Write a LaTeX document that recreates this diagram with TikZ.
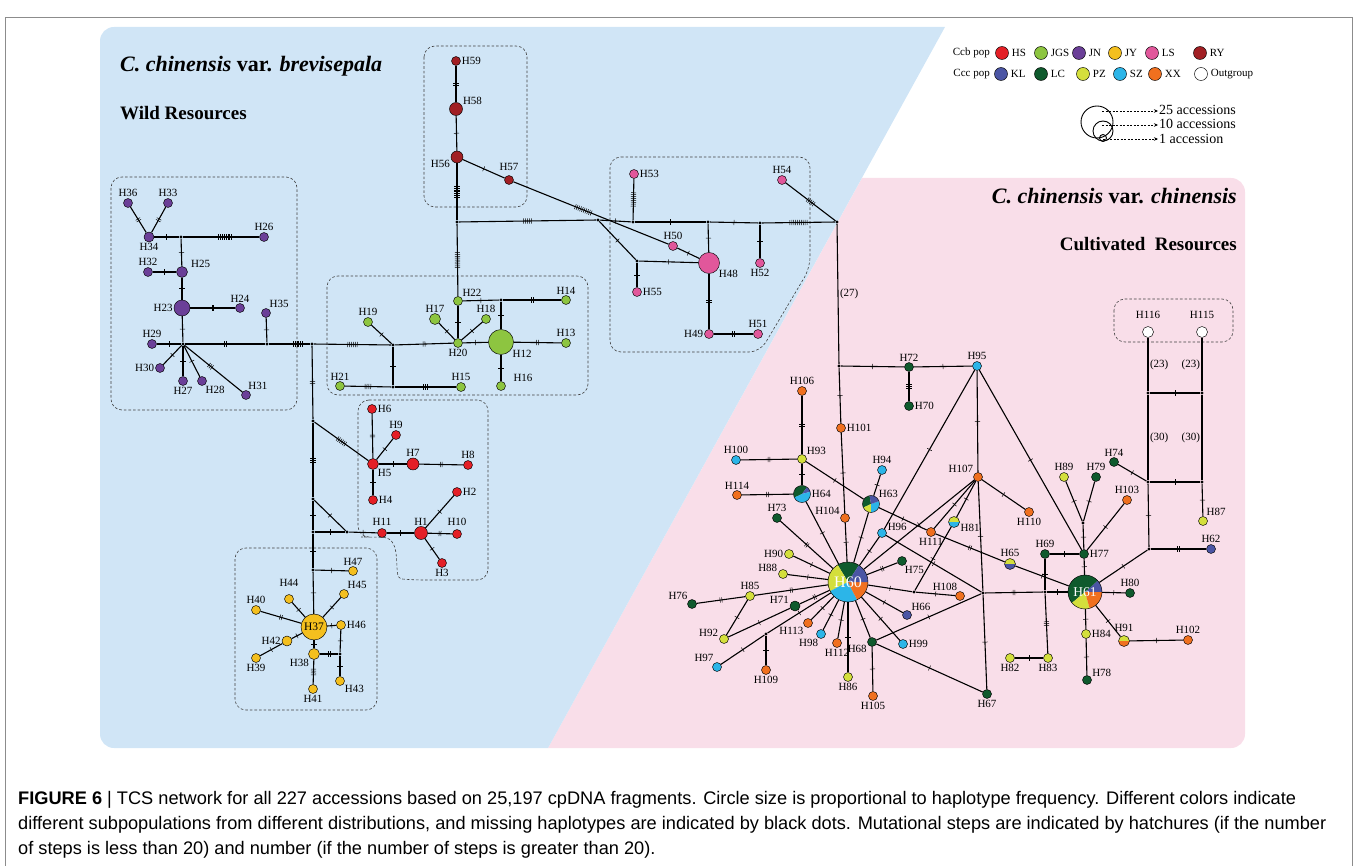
\documentclass[tikz,border=0pt]{standalone}
\usepackage{fontspec}
\setmainfont{Liberation Serif}
\newfontfamily\capfont{Liberation Sans}
\usepackage{tikz}
\usetikzlibrary{arrows.meta,decorations.markings,calc}
\definecolor{tcsHS}{HTML}{E41F26}
\definecolor{tcsJGS}{HTML}{8DC540}
\definecolor{tcsJN}{HTML}{6B3F98}
\definecolor{tcsJY}{HTML}{F4BF1E}
\definecolor{tcsLS}{HTML}{E1579B}
\definecolor{tcsRY}{HTML}{A11F24}
\definecolor{tcsKL}{HTML}{4B55A4}
\definecolor{tcsLC}{HTML}{0F5A2D}
\definecolor{tcsPZ}{HTML}{D4DF3C}
\definecolor{tcsSZ}{HTML}{2CB5E8}
\definecolor{tcsXX}{HTML}{F0701F}
\definecolor{wildbg}{HTML}{D0E5F6}
\definecolor{cultbg}{HTML}{F9DEE9}
\definecolor{framegrey}{HTML}{8C8C8C}
% one coloured sector of a pie haplotype (angles as seen on the page)
\newcommand{\slice}[5]{\fill[#5] (#1) -- ++({-(#3)}:#2)
  arc[start angle={-(#3)}, end angle={-(#4)}, radius=#2] -- cycle;}
\tikzset{
  hap/.style      = {circle, draw=black, line width=0.45pt, inner sep=0pt,
                     minimum size=9pt},
  pHS/.style      = {hap, fill=tcsHS},
  pJGS/.style     = {hap, fill=tcsJGS},
  pJN/.style      = {hap, fill=tcsJN},
  pJY/.style      = {hap, fill=tcsJY},
  pLS/.style      = {hap, fill=tcsLS},
  pRY/.style      = {hap, fill=tcsRY},
  pKL/.style      = {hap, fill=tcsKL},
  pLC/.style      = {hap, fill=tcsLC},
  pPZ/.style      = {hap, fill=tcsPZ},
  pSZ/.style      = {hap, fill=tcsSZ},
  pXX/.style      = {hap, fill=tcsXX},
  pOG/.style      = {hap, fill=white},
  miss/.style     = {circle, fill=black, inner sep=0pt, minimum size=3.4pt},
  lab/.style      = {font=\fontsize{11}{12}\selectfont, inner sep=1pt},
  stepnum/.style  = {font=\fontsize{11}{12}\selectfont, inner sep=1.5pt},
  link/.style     = {draw=black, line width=1.1pt},
  hatchat/.style 2 args = {postaction={decorate, decoration={markings,
      mark=at position #2 with {\foreach \k in {1,...,#1}
        {\draw[line width=0.5pt] ({(\k-(#1+1)/2)*1.9},-2.6) -- ++(0,5.2);}}}}},
  hatch/.style    = {hatchat={#1}{0.5}},
  grpbox/.style   = {draw=black!75, dashed, dash pattern=on 2.6pt off 2pt,
                     line width=0.6pt, rounded corners=11pt},
  legarrow/.style = {draw=black, dashed, dash pattern=on 2pt off 1.5pt,
                     line width=0.8pt, -{Stealth[length=4pt,width=3.5pt]}},
  ttl/.style      = {font=\fontsize{22}{26}\selectfont\bfseries, inner sep=0pt},
  subttl/.style   = {font=\fontsize{19}{22}\selectfont\bfseries, inner sep=0pt},
  captxt/.style   = {font=\capfont\fontsize{18.2}{20}\selectfont, anchor=west,
                     inner sep=0pt},
}

\begin{document}
\begin{tikzpicture}[x=1pt, y=-1pt]
  \useasboundingbox (0,0) rectangle (1358,866);

  % ---------- backgrounds -------------------------------------------------
  \draw[framegrey, line width=0.8pt] (5,866) -- (5,17) -- (1352,17) -- (1352,866);
  \fill[cultbg] (548,748) -- (862,178) [rounded corners=14pt] -- (1245,178)
       -- (1245,748) -- (900,748) [sharp corners] -- (548,748) -- cycle;
  \fill[wildbg] (548,748) -- (320,748) [rounded corners=14pt] -- (100,748)
       -- (100,27) -- (600,27) [sharp corners] -- (945,27) -- cycle;

  \node[ttl, anchor=west] (wildttl) at (120,66)
       {\textit{C. chinensis} var. \textit{brevisepala}};
  \node[subttl, anchor=west] (wildsub) at (120,113) {Wild Resources};
  \node[ttl, anchor=east] (cultttl) at (1237,196)
       {\textit{C. chinensis} var. \textit{chinensis}};
  \node[subttl, anchor=east] (cultsub) at (1237,244) {Cultivated\ \ Resources};

  % ---------- population boxes --------------------------------------------
  \draw[grpbox] (111,177) rectangle (297,410);
  \draw[grpbox] (424,46) rectangle (527,207);
  \draw[grpbox] (327,276) rectangle (588,395);
  \draw[grpbox] (610,157) -- (810,157) -- (810,268) -- (760,352) -- (610,352) -- cycle;
  \draw[grpbox] (358,400) -- (488,400) -- (488,580) -- (412,580)
       .. controls (392,578) and (404,538) .. (372,537) -- (358,537) -- cycle;
  \draw[grpbox] (235,548) rectangle (377,710);
  \draw[grpbox] (1114,299) rectangle (1233,342);

  % ---------- legend ------------------------------------------------------
  \node[lab, anchor=east] (ccb) at (991,53) {Ccb pop};
  \node[pHS, minimum size=13pt, label={[lab,label distance=2pt]right:HS}] (lgHS) at (1002,53) {};
  \node[pJGS, minimum size=13pt, label={[lab,label distance=2pt]right:JGS}] (lgJGS) at (1041,53) {};
  \node[pJN, minimum size=13pt, label={[lab,label distance=2pt]right:JN}] (lgJN) at (1079,53) {};
  \node[pJY, minimum size=13pt, label={[lab,label distance=2pt]right:JY}] (lgJY) at (1115,53) {};
  \node[pLS, minimum size=13pt, label={[lab,label distance=2pt]right:LS}] (lgLS) at (1152,53) {};
  \node[pRY, minimum size=13pt, label={[lab,label distance=2pt]right:RY}] (lgRY) at (1200,53) {};
  \node[lab, anchor=east] (ccc) at (991,74) {Ccc pop};
  \node[pKL, minimum size=13pt, label={[lab,label distance=2pt]right:KL}] (lgKL) at (1001,74) {};
  \node[pLC, minimum size=13pt, label={[lab,label distance=2pt]right:LC}] (lgLC) at (1041,74) {};
  \node[pPZ, minimum size=13pt, label={[lab,label distance=2pt]right:PZ}] (lgPZ) at (1083,74) {};
  \node[pSZ, minimum size=13pt, label={[lab,label distance=2pt]right:SZ}] (lgSZ) at (1120,74) {};
  \node[pXX, minimum size=13pt, label={[lab,label distance=2pt]right:XX}] (lgXX) at (1155,74) {};
  \node[pOG, minimum size=13pt, label={[lab,label distance=2pt]right:Outgroup}] (lgOG) at (1201,74) {};

  \node[circle, draw, line width=0.9pt, inner sep=0pt, minimum size=32pt] (sz25) at (1097,122) {};
  \node[circle, draw, line width=0.9pt, inner sep=0pt, minimum size=20pt] (sz10) at (1103,131) {};
  \node[circle, draw, line width=0.9pt, inner sep=0pt, minimum size=7pt] (sz1) at (1103,138) {};
  \coordinate (a25) at (1102,111);
  \coordinate (a10) at (1102,125);
  \coordinate (a1) at (1103,139);
  \node[anchor=west, font=\fontsize{14}{15}\selectfont, inner sep=1pt] (t25) at (1158,110) {25 accessions};
  \node[anchor=west, font=\fontsize{14}{15}\selectfont, inner sep=1pt] (t10) at (1158,124) {10 accessions};
  \node[anchor=west, font=\fontsize{14}{15}\selectfont, inner sep=1pt] (t1) at (1158,139) {1 accession};
  \draw[legarrow] (a25) -- (t25.west |- a25);
  \draw[legarrow] (a10) -- (t10.west |- a10);
  \draw[legarrow] (a1) -- (t1.west |- a1);

  % ---------- JN ----------------------------------------------------------
  \node[miss] (j34) at (181,237) {};
  \node[miss] (j29) at (183,344) {};
  \node[miss] (j35) at (267,344) {};
  \node[miss] (jM) at (312,344) {};
  \node[pJN, label={[lab]above:H36}] (H36) at (128,203) {};
  \node[pJN, label={[lab]above:H33}] (H33) at (168,203) {};
  \node[pJN, minimum size=10pt, label={[lab]below:H34}] (H34) at (149,237) {};
  \node[pJN, label={[lab]above:H26}] (H26) at (264,237) {};
  \node[pJN, minimum size=11pt, label={[lab,label distance=3pt]25:H25}] (H25) at (182,272) {};
  \node[pJN, label={[lab]above:H32}] (H32) at (148,272) {};
  \node[pJN, minimum size=16pt, label={[lab]left:H23}] (H23) at (182,308) {};
  \node[pJN, label={[lab]above:H24}] (H24) at (240,308) {};
  \node[pJN, label={[lab]60:H35}] (H35) at (266,313) {};
  \node[pJN, label={[lab]above:H29}] (H29) at (152,344) {};
  \node[pJN, label={[lab]left:H30}] (H30) at (160,368) {};
  \node[pJN, label={[lab]below:H27}] (H27) at (183,381) {};
  \node[pJN, label={[lab]-60:H28}] (H28) at (202,381) {};
  \node[pJN, label={[lab]75:H31}] (H31) at (246,395) {};

  % ---------- JGS ---------------------------------------------------------
  \node[miss] (j19) at (393,345) {};
  \node[miss] (j21) at (393,387) {};
  \node[miss] (j22) at (501,300) {};
  \node[pJGS, label={[lab]above:H19}] (H19) at (368,322) {};
  \node[pJGS, label={[lab]below:H20}] (H20) at (458,343) {};
  \node[pJGS, minimum size=11pt, label={[lab]above:H17}] (H17) at (435,319) {};
  \node[pJGS, label={[lab]above:H18}] (H18) at (486,319) {};
  \node[pJGS, label={[lab]above right:H22}] (H22) at (458,301) {};
  \node[pJGS, minimum size=25pt, label={[lab]-35:H12}] (H12) at (501,342) {};
  \node[pJGS, label={[lab]above:H14}] (H14) at (566,300) {};
  \node[pJGS, label={[lab]above:H13}] (H13) at (566,343) {};
  \node[pJGS, label={[lab,label distance=7pt]15:H16}] (H16) at (501,386) {};
  \node[pJGS, label={[lab]above:H21}] (H21) at (340,386) {};
  \node[pJGS, label={[lab]above:H15}] (H15) at (461,387) {};

  % ---------- RY and LS ---------------------------------------------------
  \node[miss] (j56) at (457,222) {};
  \node[miss] (jX) at (598,220) {};
  \node[miss] (jA) at (633,222) {};
  \node[miss] (jB) at (708,222) {};
  \node[miss] (jC) at (760,223) {};
  \node[miss] (jD) at (837,222) {};
  \node[miss] (j55) at (637,261) {};
  \node[pRY, label={[lab]right:H59}] (H59) at (456,61) {};
  \node[pRY, minimum size=13pt, label={[lab]30:H58}] (H58) at (456,109) {};
  \node[pRY, minimum size=12pt, label={[lab]-165:H56}] (H56) at (457,157) {};
  \node[pRY, label={[lab,label distance=3pt]above:H57}] (H57) at (509,180) {};
  \node[pLS, label={[lab]right:H53}] (H53) at (634,174) {};
  \node[pLS, label={[lab]above:H54}] (H54) at (782,180) {};
  \node[pLS, label={[lab]above:H50}] (H50) at (673,246) {};
  \node[pLS, minimum size=21pt, label={[lab]-35:H48}] (H48) at (709,263) {};
  \node[pLS, label={[lab]below:H52}] (H52) at (760,263) {};
  \node[pLS, label={[lab]right:H55}] (H55) at (637,292) {};
  \node[pLS, label={[lab]left:H49}] (H49) at (709,334) {};
  \node[pLS, label={[lab]above:H51}] (H51) at (758,334) {};

  % ---------- HS ----------------------------------------------------------
  \node[miss] (j5) at (313,421) {};
  \node[miss] (j4) at (313,499) {};
  \node[miss] (j11) at (313,532) {};
  \node[miss] (j11b) at (347,532) {};
  \node[miss] (j47) at (313,570) {};
  \node[pHS, label={[lab]right:H6}] (H6) at (372,409) {};
  \node[pHS, label={[lab]above:H9}] (H9) at (396,435) {};
  \node[pHS, minimum size=11pt, label={[lab]-50:H5}] (H5) at (373,464) {};
  \node[pHS, minimum size=12pt, label={[lab]above:H7}] (H7) at (413,464) {};
  \node[pHS, label={[lab]above:H8}] (H8) at (468,465) {};
  \node[pHS, label={[lab]right:H4}] (H4) at (373,500) {};
  \node[pHS, label={[lab,label distance=2pt]above:H11}] (H11) at (382,533) {};
  \node[pHS, minimum size=13pt, label={[lab]above:H1}] (H1) at (421,533) {};
  \node[pHS, label={[lab]right:H2}] (H2) at (457,492) {};
  \node[pHS, label={[lab,label distance=2pt]above:H10}] (H10) at (457,534) {};
  \node[pHS, label={[lab]below:H3}] (H3) at (442,563) {};

  % ---------- JY ----------------------------------------------------------
  \node[miss] (j43) at (340,654) {};
  \node[pJY, minimum size=26pt, font=\fontsize{11.5}{12}\selectfont] (H37) at (314,627) {H37};
  \node[pJY, label={[lab]above:H47}] (H47) at (353,571) {};
  \node[pJY, label={[lab,label distance=7pt]above:H44}] (H44) at (289,599) {};
  \node[pJY, label={[lab]60:H45}] (H45) at (344,594) {};
  \node[pJY, label={[lab]above:H40}] (H40) at (256,610) {};
  \node[pJY, label={[lab]right:H46}] (H46) at (341,625) {};
  \node[pJY, minimum size=10pt, label={[lab]left:H42}] (H42) at (287,641) {};
  \node[pJY, label={[lab]below:H39}] (H39) at (256,658) {};
  \node[pJY, minimum size=11pt, label={[lab]-135:H38}] (H38) at (314,654) {};
  \node[pJY, label={[lab]-40:H43}] (H43) at (340,681) {};
  \node[pJY, label={[lab]below:H41}] (H41) at (313,689) {};

  % ---------- cultivated: pies --------------------------------------------
  \coordinate (c60) at (848,582);
  \slice{c60}{20}{57}{121}{tcsLC}  \slice{c60}{20}{121}{207}{tcsPZ}
  \slice{c60}{20}{207}{297}{tcsSZ} \slice{c60}{20}{297}{360}{tcsXX}
  \slice{c60}{20}{0}{57}{tcsKL}
  \node[hap, minimum size=40pt, text=white, font=\fontsize{16}{16}\selectfont] (H60) at (c60) {H60};
  \coordinate (c61) at (1085,592);
  \slice{c61}{17}{0}{42}{tcsKL}    \slice{c61}{17}{42}{220}{tcsLC}
  \slice{c61}{17}{220}{286}{tcsPZ} \slice{c61}{17}{286}{360}{tcsXX}
  \node[hap, minimum size=34pt, text=white, font=\fontsize{13.5}{14}\selectfont] (H61) at (c61) {H61};
  \coordinate (c64) at (802,494);
  \slice{c64}{8.5}{54}{205}{tcsLC} \slice{c64}{8.5}{15}{54}{tcsKL}
  \slice{c64}{8.5}{205}{375}{tcsSZ}
  \node[hap, minimum size=17pt, label={[lab]right:H64}] (H64) at (c64) {};
  \coordinate (c63) at (871,504);
  \slice{c63}{8.5}{100}{205}{tcsLC} \slice{c63}{8.5}{205}{270}{tcsPZ}
  \slice{c63}{8.5}{270}{380}{tcsSZ} \slice{c63}{8.5}{20}{100}{tcsKL}
  \node[hap, minimum size=17pt, label={[lab]40:H63}] (H63) at (c63) {};
  \coordinate (c65) at (1010,564);
  \slice{c65}{5.5}{0}{180}{tcsPZ} \slice{c65}{5.5}{180}{360}{tcsKL}
  \node[hap, minimum size=11pt, label={[lab]above:H65}] (H65) at (c65) {};
  \coordinate (c81) at (954,522);
  \slice{c81}{5.5}{0}{180}{tcsPZ} \slice{c81}{5.5}{180}{360}{tcsSZ}
  \node[hap, minimum size=11pt, label={[lab]-15:H81}] (H81) at (c81) {};
  \coordinate (c91) at (1124,641);
  \slice{c91}{5.5}{0}{180}{tcsPZ} \slice{c91}{5.5}{180}{360}{tcsXX}
  \node[hap, minimum size=11pt, label={[lab,label distance=2pt]above:H91}] (H91) at (c91) {};

  % ---------- cultivated: haplotypes --------------------------------------
  \node[miss] (j72) at (839,366) {};
  \node[miss] (j108) at (914,592) {};
  \node[miss] (jQ) at (983,593) {};
  \node[miss] (j69) at (1045,592) {};
  \node[miss] (j77) at (1083,523) {};
  \node[miss] (j109) at (766,634) {};
  \node[miss] (jO1) at (1148,393) {};
  \node[miss] (jO2) at (1202,393) {};
  \node[miss] (jO3) at (1148,482) {};
  \node[miss] (jO4) at (1202,482) {};
  \node[miss] (jO5) at (1149,549) {};
  \node[pLC, label={[lab]above:H72}] (H72) at (909,367) {};
  \node[pSZ, label={[lab]above:H95}] (H95) at (977,366) {};
  \node[pLC, label={[lab]right:H70}] (H70) at (909,406) {};
  \node[pXX, label={[lab]above:H106}] (H106) at (802,391) {};
  \node[pXX, label={[lab]right:H101}] (H101) at (841,428) {};
  \node[pPZ, label={[lab]40:H93}] (H93) at (802,459) {};
  \node[pSZ, label={[lab]above:H100}] (H100) at (736,460) {};
  \node[pXX, label={[lab]above:H114}] (H114) at (737,495) {};
  \node[pSZ, label={[lab]above:H94}] (H94) at (882,470) {};
  \node[pXX, label={[lab]150:H104}] (H104) at (845,518) {};
  \node[pLC, label={[lab]above:H73}] (H73) at (777,518) {};
  \node[pXX, label={[lab]140:H107}] (H107) at (978,477) {};
  \node[pSZ, label={[lab]15:H96}] (H96) at (882,533) {};
  \node[pXX, label={[lab]below:H111}] (H111) at (931,532) {};
  \node[pXX, label={[lab]below:H110}] (H110) at (1029,512) {};
  \node[pPZ, label={[lab]above:H89}] (H89) at (1064,477) {};
  \node[pLC, label={[lab]above:H79}] (H79) at (1096,477) {};
  \node[pXX, label={[lab]above:H103}] (H103) at (1127,500) {};
  \node[pLC, label={[lab]above:H74}] (H74) at (1114,462) {};
  \node[pPZ, label={[lab]60:H87}] (H87) at (1203,521) {};
  \node[pKL, label={[lab]above:H62}] (H62) at (1211,549) {};
  \node[pPZ, label={[lab]left:H90}] (H90) at (789,554) {};
  \node[pPZ, label={[lab]165:H88}] (H88) at (783,574) {};
  \node[pPZ, label={[lab]above:H85}] (H85) at (750,596) {};
  \node[pLC, label={[lab]135:H76}] (H76) at (692,604) {};
  \node[pLC, minimum size=10pt, label={[lab]165:H71}] (H71) at (795,606) {};
  \node[pPZ, label={[lab]170:H92}] (H92) at (724,639) {};
  \node[pXX, label={[lab]below:H109}] (H109) at (766,670) {};
  \node[pSZ, label={[lab]120:H97}] (H97) at (717,667) {};
  \node[pXX, label={[lab]-135:H113}] (H113) at (808,623) {};
  \node[pSZ, label={[lab]-110:H98}] (H98) at (821,634) {};
  \node[pXX, label={[lab]below:H112}] (H112) at (837,643) {};
  \node[pPZ, label={[lab]below:H86}] (H86) at (848,677) {};
  \node[pLC, label={[lab]-150:H68}] (H68) at (872,642) {};
  \node[pXX, label={[lab]below:H105}] (H105) at (873,696) {};
  \node[pSZ, label={[lab]right:H99}] (H99) at (903,644) {};
  \node[pKL, label={[lab]45:H66}] (H66) at (907,615) {};
  \node[pLC, label={[lab]-70:H75}] (H75) at (902,561) {};
  \node[pXX, label={[lab]110:H108}] (H108) at (960,596) {};
  \node[pLC, label={[lab]below:H67}] (H67) at (987,694) {};
  \node[pLC, label={[lab]above:H69}] (H69) at (1045,554) {};
  \node[pLC, label={[lab]right:H77}] (H77) at (1084,554) {};
  \node[pLC, label={[lab]above:H80}] (H80) at (1130,593) {};
  \node[pPZ, label={[lab]right:H84}] (H84) at (1086,634) {};
  \node[pLC, label={[lab]30:H78}] (H78) at (1087,680) {};
  \node[pXX, label={[lab]above:H102}] (H102) at (1188,640) {};
  \node[pPZ, label={[lab]below:H83}] (H83) at (1048,658) {};
  \node[pPZ, label={[lab]below:H82}] (H82) at (1010,658) {};
  \node[pOG, minimum size=11pt, label={[lab,label distance=6pt]above:H116}] (H116) at (1148,332) {};
  \node[pOG, minimum size=11pt, label={[lab,label distance=6pt]above:H115}] (H115) at (1202,332) {};

  % ---------- links: JN ---------------------------------------------------
  \draw[link] (H34) edge[hatch=2] (H36) edge[hatch=2] (H33) edge[hatch=1] (j34);
  \draw[link] (j34) edge[hatchat={8}{0.55}] (H26) edge[hatch=1] (H25);
  \draw[link] (H25) edge[hatch=1] (H32) edge[hatch=1] (H23);
  \draw[link] (H23) edge[hatch=2] (H24) edge[hatch=1] (j29);
  \draw[link] (j29) edge[hatch=1] (H29) edge[hatch=1] (H30) edge[hatch=1] (H27)
       edge[hatch=1] (H28) edge[hatchat={3}{0.45}] (H31) edge[hatch=2] (j35);
  \draw[link] (j35) edge[hatch=1] (H35) edge[hatchat={6}{0.7}] (jM);

  % ---------- links: JGS --------------------------------------------------
  \draw[link] (jM) edge[hatch=6] (j19);
  \draw[link] (j19) edge[hatch=1] (H19) edge[hatch=1] (j21) edge[hatch=2] (H20);
  \draw[link] (j21) edge[hatch=4] (H21) edge[hatch=3] (H15);
  \draw[link] (H20) edge[hatch=1] (H17) edge[hatch=1] (H18) edge[hatch=1] (H22)
       edge[hatch=1] (H12);
  \draw[link] (j22) edge[hatch=1] (H22) edge[hatch=2] (H14) edge[hatch=1] (H12);
  \draw[link] (H12) edge[hatch=2] (H13) edge[hatch=1] (H16);
  \draw[link] (H22) edge[hatch=9] (j56);

  % ---------- links: RY and LS --------------------------------------------
  \draw[link] (j56) edge[hatch=7] (H56) edge[hatch=5] (jX);
  \draw[link] (H56) edge[hatch=1] (H58) edge[hatch=1] (H57);
  \draw[link] (H58) edge[hatch=2] (H59);
  \draw[link] (H57) edge[hatchat={10}{0.45}] (H50);
  \draw[link] (H50) edge[hatch=1] (H48);
  \draw[link] (jX) edge[hatch=1] (jA) edge[hatch=1] (j55);
  \draw[link] (jA) edge[hatch=8] (H53) edge[hatch=1] (jB);
  \draw[link] (jB) edge[hatch=1] (jC) edge[hatch=1] (H48);
  \draw[link] (jC) edge[hatch=1] (H52) edge[hatch=10] (jD);
  \draw[link] (jD) edge[hatch=5] (H54);
  \draw[link] (j55) edge[hatch=1] (H55) edge[hatch=1] (H48);
  \draw[link] (H48) edge[hatch=2] (H49);
  \draw[link] (H49) edge[hatch=2] (H51);

  % ---------- links: HS ---------------------------------------------------
  \draw[link] (jM) edge[hatch=2] (j5);
  \draw[link] (j5) edge[hatch=6] (H5) edge[hatch=3] (j4);
  \draw[link] (H5) edge[hatch=2] (H6) edge[hatch=1] (H9) edge[hatch=1] (H7)
       edge[hatch=1] (H4);
  \draw[link] (H7) edge[hatch=2] (H8);
  \draw[link] (j4) edge[hatch=1] (j11b) edge[hatch=1] (j11);
  \draw[link] (j11) edge[hatch=1] (j11b) edge[hatch=1] (j47);
  \draw[link] (j11b) edge[hatch=1] (H11);
  \draw[link] (H11) edge[hatch=1] (H1);
  \draw[link] (H1) edge[hatch=1] (H2) edge[hatch=2] (H10) edge[hatch=1] (H3);

  % ---------- links: JY ---------------------------------------------------
  \draw[link] (j47) edge[hatch=1] (H47) edge[hatch=1] (H37);
  \draw[link] (H37) edge[hatch=1] (H44) edge[hatch=1] (H45) edge[hatch=2] (H40)
       edge[hatch=1] (H46) edge[hatch=1] (H42) edge[hatch=1] (H38);
  \draw[link] (H42) edge[hatch=1] (H39);
  \draw[link] (H38) edge[hatch=4] (H41) edge[hatch=2] (j43);
  \draw[link] (j43) edge[hatch=1] (H46) edge[hatch=1] (H43);

  % ---------- links: cultivated -------------------------------------------
  \draw[link] (jD) -- node[stepnum, right] {(27)} (j72);
  \draw[link] (j72) edge[hatch=1] (H72) edge[hatch=1] (H101);
  \draw[link] (H72) edge[hatch=1] (H95) edge[hatch=3] (H70);
  \draw[link] (H101) edge[hatch=1] (H104);
  \draw[link] (H104) edge[hatch=1] (H60);
  \draw[link] (H93) edge[hatch=2] (H106) edge[hatch=2] (H100) edge[hatch=1] (H64)
       edge[hatch=1] (H63);
  \draw[link] (H64) edge[hatch=2] (H114) edge[hatch=1] (H60);
  \draw[link] (H63) edge[hatch=1] (H94) edge[hatch=1] (H60) edge[hatch=1] (H111);
  \draw[link] (H111) edge[hatch=2] (H65);
  \draw[link] (H65) edge[hatch=1] (H61);
  \draw[link] (H60) edge[hatch=2] (H73) edge[hatch=1] (H90) edge[hatch=1] (H88)
       edge[hatch=2] (H85) edge[hatch=2] (H71) edge[hatch=1] (j109)
       edge[hatch=1] (H113) edge[hatch=1] (H98) edge[hatch=1] (H112)
       edge[hatch=1] (H86) edge[hatch=1] (H68) edge[hatch=1] (H99)
       edge[hatch=1] (H66) edge[hatch=2] (H75) edge[hatch=1] (j108)
       edge[hatch=1] (H96) edge[hatch=1] (H107);
  \draw[link] (H85) edge[hatch=2] (H76) edge[hatch=1] (H92);
  \draw[link] (H71) edge[hatch=1] (H92);
  \draw[link] (j109) edge[hatch=1] (H97) edge[hatch=1] (H109);
  \draw[link] (H68) edge[hatch=1] (H105) edge[hatch=1] (H67) edge[hatch=1] (jQ);
  \draw[link] (j108) edge[hatch=1] (H108) edge[hatch=1] (H81);
  \draw[link] (H107) edge[hatch=1] (H81) edge[hatch=1] (H111) edge[hatch=1] (H95)
       edge[hatch=1] (H110) edge[hatch=1] (jQ);
  \draw[link] (H96) edge[hatch=1] (H95) edge[hatch=1] (jQ);
  \draw[link] (jQ) edge[hatch=1] (H67) edge[hatch=2] (j69);
  \draw[link] (H95) edge[hatch=1] (H77);
  \draw[link] (j69) edge[hatch=1] (H61) edge[hatch=1] (H69) edge[hatch=3] (H83);
  \draw[link] (H83) edge[hatch=1] (H82);
  \draw[link] (H77) edge[hatch=1] (H69) edge[hatch=1] (H61) edge[hatch=1] (j77)
       edge[hatch=1] (H103);
  \draw[link] (j77) edge[hatch=1] (H89) edge[hatch=1] (H79);
  \draw[link] (H61) edge[hatch=1] (H80) edge[hatch=1] (H84) edge[hatch=1] (H91)
       edge[hatch=1] (jO5);
  \draw[link] (H84) edge[hatch=1] (H78);
  \draw[link] (H91) edge[hatch=1] (H102);
  \draw[link] (jO5) edge[hatch=2] (H62) edge[hatch=1] (jO3);
  \draw[link] (jO3) edge[hatch=1] (H74) edge[hatch=1] (jO4);
  \draw[link] (jO4) edge[hatch=1] (H87);
  \draw[link] (jO1) edge[hatch=1] (jO2);
  \draw[link] (jO3) -- node[stepnum, right] {(30)} (jO1);
  \draw[link] (jO4) -- node[stepnum, left] {(30)} (jO2);
  \draw[link] (jO1) -- node[stepnum, right] {(23)} (H116);
  \draw[link] (jO2) -- node[stepnum, left] {(23)} (H115);

  % ---------- caption -----------------------------------------------------
  \node[captxt] (cap1) at (18,800) {\textbf{FIGURE 6} | TCS network for all 227
    accessions based on 25,197 cpDNA fragments. Circle size is proportional to
    haplotype frequency. Different colors indicate};
  \node[captxt] (cap2) at (18,825) {different subpopulations from different
    distributions, and missing haplotypes are indicated by black dots. Mutational
    steps are indicated by hatchures (if the number};
  \node[captxt] (cap3) at (18,850) {of steps is less than 20) and number (if the
    number of steps is greater than 20).};

\end{tikzpicture}
\end{document}
